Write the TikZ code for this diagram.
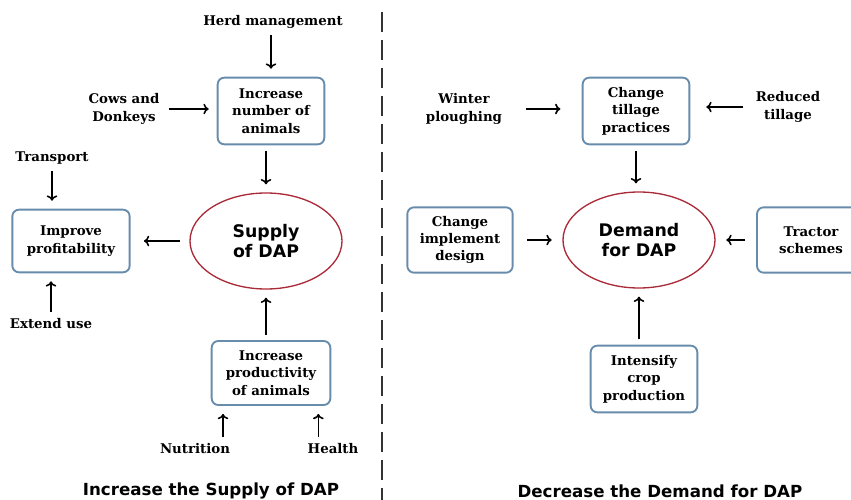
\documentclass[tikz,border=0pt]{standalone}
\usepackage{fontspec}
\setmainfont{DejaVu Serif}
\setsansfont{DejaVu Sans}
\usetikzlibrary{arrows.meta,shapes.geometric}
\definecolor{boxblue}{RGB}{104,140,172}
\definecolor{ovalred}{RGB}{170,42,56}
\tikzset{
	factor/.style={draw=boxblue, line width=1.4pt, rounded corners=5pt, fill=white, align=center,
		font=\bfseries\fontsize{10}{13}\selectfont, inner sep=2pt},
	cause/.style={align=center, font=\bfseries\fontsize{10}{13}\selectfont, inner sep=1pt},
	goal/.style={draw=ovalred, ellipse, line width=1pt, minimum width=114pt, minimum height=72pt,
		align=center, font=\sffamily\bfseries\fontsize{13}{15.5}\selectfont},
	heading/.style={font=\sffamily\bfseries\fontsize{12.5}{14}\selectfont},
	link/.style={-{To[length=4pt,width=8pt]}, line width=1.2pt, shorten <=4pt, shorten >=6pt}
}

\begin{document}
\begin{tikzpicture}[x=0.75pt, y=-0.75pt]
	\useasboundingbox (0,0) rectangle (851,500);
	
	\node[cause] (herd) at (273,22) {Herd management};
	\node[factor, minimum width=80pt, minimum height=50pt] (numbox) at (271,111) {Increase\\number of\\animals};
	\node[cause] (cows) at (124,109) {Cows and\\Donkeys};
	\node[goal] (supply) at (266,241) {Supply\\of DAP};
	\node[factor, minimum width=88pt, minimum height=47pt] (profbox) at (71,241) {Improve\\profitability};
	\node[cause] (transport) at (52,158) {Transport};
	\node[cause] (extend) at (51,324) {Extend use};
	\node[factor, minimum width=89pt, minimum height=48pt] (prodbox) at (271,373) {Increase\\productivity\\of animals};
	\node[cause] (nutrition) at (195,449) {Nutrition};
	\node[cause] (health) at (333,449) {Health};
	\node[heading] (title1) at (211,491) {Increase the Supply of DAP};
	
	\draw[link] (herd.south -| numbox) -- (numbox.north);
	\draw[link, shorten <=6pt] (cows) -- (cows -| numbox.west);
	\draw[link] (numbox.south -| supply) -- (supply.north);
	\draw[link, shorten <=7pt, shorten >=10pt] (supply) -- (profbox);
	\draw[link] (transport) -- (transport |- profbox.north);
	\draw[link] (extend) -- (extend |- profbox.south);
	\draw[link] (prodbox.north -| supply) -- (supply.south);
	\draw[link] ([xshift=21pt]nutrition.north) -- ([xshift=21pt]nutrition.north |- prodbox.south);
	\draw[link] ([xshift=-11pt]health.north) -- ([xshift=-11pt]health.north |- prodbox.south);
	
	\draw[gray!40!black, line width=2pt, dash pattern=on 15pt off 6pt] (382,12) -- (382,500);
	
	\node[factor, minimum width=80pt, minimum height=50pt] (tillbox) at (636,111) {Change\\tillage\\practices};
	\node[cause] (winter) at (464,109) {Winter\\ploughing};
	\node[cause] (reduced) at (788,107) {Reduced\\tillage};
	\node[goal] (demand) at (639,240) {Demand\\for DAP};
	\node[factor, minimum width=79pt, minimum height=49pt] (implbox) at (460,240) {Change\\implement\\design};
	\node[factor, minimum width=81pt, minimum height=49pt] (tractbox) at (811,240) {Tractor\\schemes};
	\node[factor, minimum width=80pt, minimum height=50pt] (cropbox) at (644,379) {Intensify\\crop\\production};
	\node[heading] (title2) at (660,491) {Decrease the Demand for DAP};
	
	\draw[link, shorten <=17pt, shorten >=16pt] (winter) -- (winter -| tillbox.west);
	\draw[link, shorten <=8pt, shorten >=12pt] (reduced) -- (reduced -| tillbox.east);
	\draw[link] (tillbox) -- (tillbox |- demand.north);
	\draw[link, shorten <=10pt, shorten >=8pt] (implbox) -- (demand);
	\draw[link, shorten <=8pt, shorten >=8pt] (tractbox) -- (demand);
	\draw[link] (cropbox.north -| demand) -- (demand.south);
\end{tikzpicture}
\end{document}
